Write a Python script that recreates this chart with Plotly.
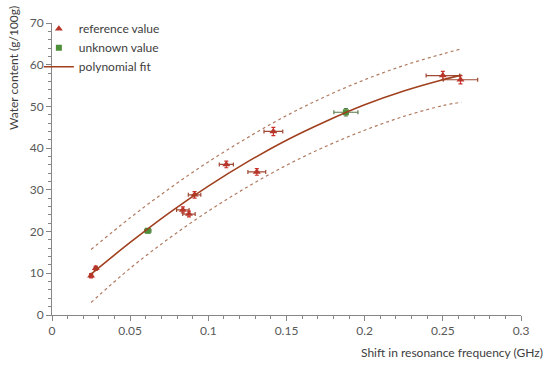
import plotly.graph_objects as go

# Reference values
ref_x = [0.025, 0.028, 0.0837, 0.0876, 0.0912, 0.1115, 0.131, 0.1416, 0.25, 0.2613]
ref_y = [9.4, 11.2, 25.2, 24.2, 28.8, 36.1, 34.3, 44.0, 57.4, 56.4]
ref_xerr = [0.001, 0.001, 0.004, 0.004, 0.004, 0.0045, 0.0057, 0.006, 0.0107, 0.011]
ref_yerr = [0.5, 0.5, 0.7, 0.7, 0.8, 0.8, 0.8, 1.0, 1.0, 1.0]

# Unknown values
unk_x = [0.0613, 0.188]
unk_y = [20.2, 48.6]
unk_xerr = [0.002, 0.0077]
unk_yerr = [0.5, 0.9]

# Polynomial fit and prediction band
fit_x = [0.025, 0.05, 0.075, 0.1, 0.125, 0.15, 0.175, 0.2, 0.225, 0.25, 0.262]
fit_y = [9.8, 17.4, 24.5, 30.9, 36.7, 41.9, 46.4, 50.4, 53.7, 56.4, 57.5]
upper_y = [15.7, 23.3, 30.3, 36.7, 42.5, 47.8, 52.4, 56.4, 59.8, 62.6, 63.8]
lower_y = [3.0, 11.2, 18.4, 24.9, 30.7, 35.9, 40.4, 44.3, 47.6, 50.2, 51.0]

FONT = "Lato, Open Sans, sans-serif"
fig = go.Figure()

fig.add_trace(go.Scatter(x=fit_x, y=upper_y, mode="lines", line=dict(color="#B07A60", width=1.2, dash="dot", shape="spline"),
                         showlegend=False, hoverinfo="skip"))
fig.add_trace(go.Scatter(x=fit_x, y=lower_y, mode="lines", line=dict(color="#B07A60", width=1.2, dash="dot", shape="spline"),
                         showlegend=False, hoverinfo="skip"))

fig.add_trace(go.Scatter(
    x=ref_x, y=ref_y, mode="markers", name="reference value",
    marker=dict(symbol="triangle-up", size=7, color="#B8352A"),
    error_x=dict(type="data", array=ref_xerr, color="#A04A35", thickness=1.2, width=2),
    error_y=dict(type="data", array=ref_yerr, color="#C8302A", thickness=1.2, width=2),
))
fig.add_trace(go.Scatter(
    x=unk_x, y=unk_y, mode="markers", name="unknown value",
    marker=dict(symbol="square", size=6, color="#4E8F3A"),
    error_x=dict(type="data", array=unk_xerr, color="#5A7A4A", thickness=1.2, width=2),
    error_y=dict(type="data", array=unk_yerr, color="#5A7A4A", thickness=1.2, width=2),
))
fig.add_trace(go.Scatter(x=fit_x, y=fit_y, mode="lines", name="polynomial fit",
                         line=dict(color="#A0401F", width=1.6, shape="spline")))

axis_common = dict(showgrid=False, zeroline=False, showline=True, linecolor="#868686", linewidth=1,
                   ticks="outside", tickcolor="#868686", ticklen=5,
                   tickfont=dict(family=FONT, size=12, color="#595959"))

fig.update_xaxes(range=[0, 0.3], tickvals=[0, 0.05, 0.1, 0.15, 0.2, 0.25, 0.3],
                 ticktext=["0", "0.05", "0.1", "0.15", "0.2", "0.25", "0.3"],
                 minor=dict(dtick=0.01, ticks="outside", ticklen=3, tickcolor="#868686"),
                 **axis_common)
fig.update_yaxes(range=[0, 70], dtick=10,
                 minor=dict(dtick=2, ticks="outside", ticklen=3, tickcolor="#868686"),
                 **axis_common)

fig.update_layout(
    width=550, height=365,
    margin=dict(l=52, r=29, t=23, b=50),
    paper_bgcolor="white", plot_bgcolor="white",
    font=dict(family=FONT, size=12, color="#404040"),
    legend=dict(x=-0.028, y=1.03, xanchor="left", yanchor="top", bgcolor="rgba(0,0,0,0)",
                font=dict(family=FONT, size=12, color="#404040"), itemwidth=30),
    annotations=[
        dict(text="Water content (g/100g)", xref="paper", yref="paper", x=-0.081, y=0.846,
             textangle=-90, showarrow=False, font=dict(family=FONT, size=12, color="#404040"),
             xanchor="center", yanchor="middle"),
        dict(text="Shift in resonance frequency (GHz)", xref="paper", yref="paper", x=1.051, y=-0.127,
             showarrow=False, font=dict(family=FONT, size=12, color="#404040"),
             xanchor="right", yanchor="middle"),
    ],
)

fig.write_html("out.html", config={"displayModeBar": False},
               post_script="document.body.style.margin='0';")
